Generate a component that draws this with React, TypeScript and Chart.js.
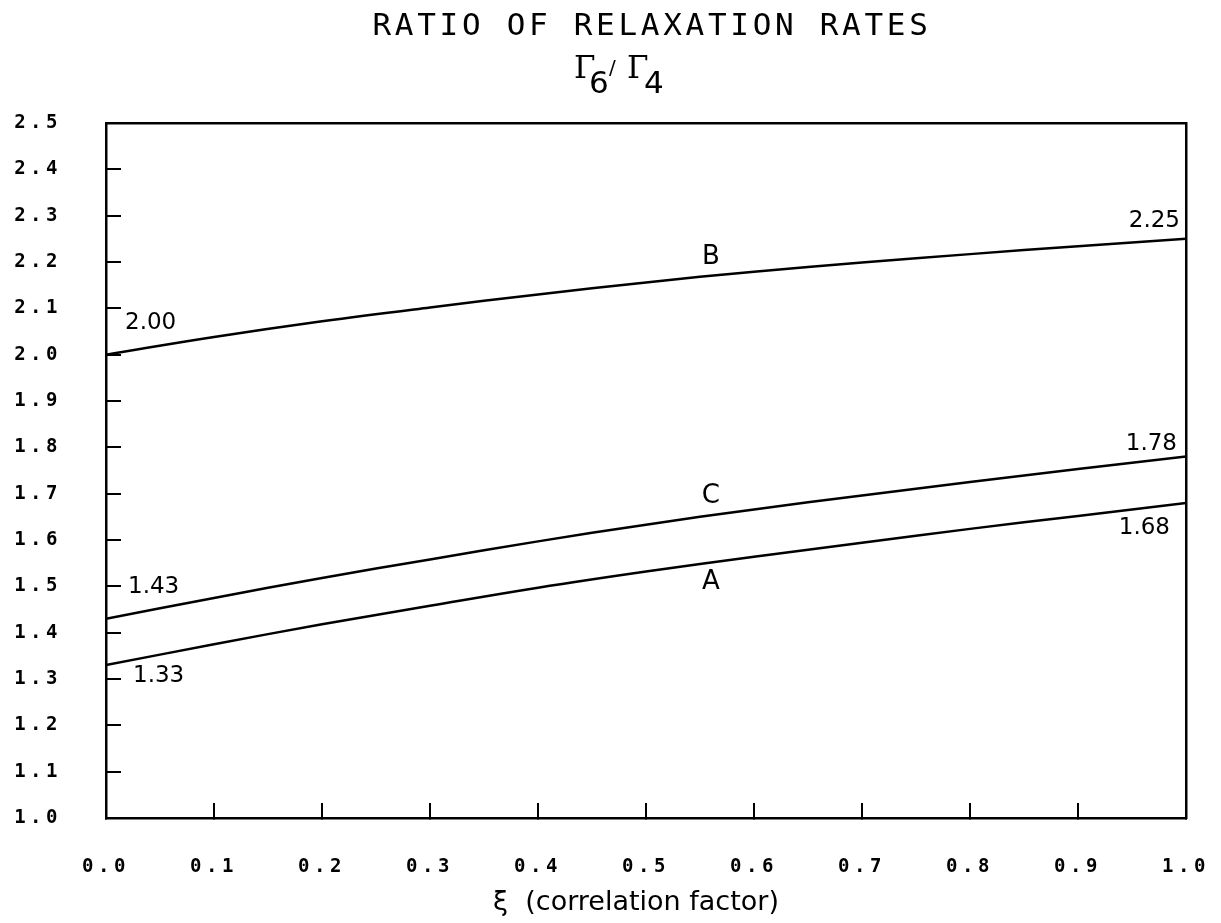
import React, { useEffect, useRef } from "react";
import { Chart, registerables } from "chart.js";

Chart.register(...registerables);

// ---- data ----
const xi = [0.0, 0.1, 0.2, 0.3, 0.4, 0.5, 0.6, 0.7, 0.8, 0.9, 1.0];
const seriesA = [1.33, 1.375, 1.418, 1.458, 1.497, 1.532, 1.564, 1.594, 1.624, 1.652, 1.68];
const seriesB = [2.0, 2.038, 2.072, 2.102, 2.13, 2.156, 2.179, 2.199, 2.217, 2.234, 2.25];
const seriesC = [1.43, 1.475, 1.518, 1.558, 1.597, 1.633, 1.666, 1.696, 1.725, 1.753, 1.78];
const curveNames = ["A", "B", "C"];
const titleLine = "RATIO OF RELAXATION RATES";
const xAxisTitle = "ξ  (correlation factor)";
const yMin = 1.0;
const yMax = 2.5;
const xMin = 0.0;
const xMax = 1.0;
const tickStep = 0.1;

const allSeries = [seriesA, seriesB, seriesC];

// label layout (pixel offsets from the curve end points / curve label anchor)
const curveLabelAt = 0.56;
const curveLabelDy = [20, -19, -19];
const startLabelOffset = [
  { dx: 27, dy: 11 },
  { dx: 19, dy: -32 },
  { dx: 22, dy: -32 },
];
const endLabelOffset = [
  { dx: -16, dy: 25 },
  { dx: -6, dy: -18 },
  { dx: -9, dy: -13 },
];

function interp(arr: number[], x: number) {
  for (let i = 0; i < xi.length - 1; i++) {
    if (x >= xi[i] && x <= xi[i + 1]) {
      const t = (x - xi[i]) / (xi[i + 1] - xi[i]);
      return arr[i] + t * (arr[i + 1] - arr[i]);
    }
  }
  return arr[arr.length - 1];
}

const overlayPlugin = {
  id: "overlayText",
  beforeDraw(chart: any) {
    chart.ctx.letterSpacing = "4.5px";
  },
  afterDraw(chart: any) {
    const ctx = chart.ctx as CanvasRenderingContext2D;
    const xs = chart.scales.x;
    const ys = chart.scales.y;
    const area = chart.chartArea;
    ctx.save();
    ctx.fillStyle = "#000";
    ctx.textBaseline = "alphabetic";

    // title
    (ctx as any).letterSpacing = "3.7px";
    ctx.font = '31px "DejaVu Sans Mono"';
    ctx.textAlign = "center";
    ctx.fillText(titleLine, 652, 35);

    // subtitle Γ6/Γ4
    (ctx as any).letterSpacing = "0px";
    ctx.textAlign = "left";
    ctx.font = '31px "DejaVu Serif"';
    ctx.fillText("Γ", 574, 78);
    ctx.fillText("Γ", 627, 78);
    ctx.font = '31px "DejaVu Sans"';
    ctx.fillText("6", 589, 93);
    ctx.fillText("4", 644, 93);
    ctx.font = '20px "DejaVu Sans"';
    ctx.fillText("/", 609, 74);

    // x axis title
    ctx.font = '27px "DejaVu Sans"';
    ctx.textAlign = "center";
    ctx.textBaseline = "middle";
    ctx.fillText(xAxisTitle, (area.left + area.right) / 2 - 10, 903);

    // end values
    ctx.font = '23px "DejaVu Sans"';
    allSeries.forEach((s, i) => {
      const x0 = xs.getPixelForValue(xi[0]);
      const y0 = ys.getPixelForValue(s[0]);
      ctx.textAlign = "left";
      ctx.fillText(s[0].toFixed(2), x0 + startLabelOffset[i].dx, y0 + startLabelOffset[i].dy);
      const x1 = xs.getPixelForValue(xi[xi.length - 1]);
      const y1 = ys.getPixelForValue(s[s.length - 1]);
      ctx.textAlign = "right";
      ctx.fillText(s[s.length - 1].toFixed(2), x1 + endLabelOffset[i].dx, y1 + endLabelOffset[i].dy);
    });

    // curve names
    ctx.font = '26px "DejaVu Sans"';
    ctx.textAlign = "center";
    allSeries.forEach((s, i) => {
      const px = xs.getPixelForValue(curveLabelAt);
      const py = ys.getPixelForValue(interp(s, curveLabelAt));
      ctx.fillText(curveNames[i], px, py + curveLabelDy[i]);
    });
    ctx.restore();
  },
};

export default function App() {
  const ref = useRef<HTMLCanvasElement | null>(null);
  useEffect(() => {
    if (!ref.current) return;
    const tickFont = { family: '"DejaVu Sans Mono"', size: 19, weight: "bold" };
    const chart = new Chart(ref.current, {
      type: "line",
      data: {
        datasets: allSeries.map((s, i) => ({
          label: curveNames[i],
          data: xi.map((x, j) => ({ x, y: s[j] })),
          borderColor: "#000",
          borderWidth: 2.5,
          pointRadius: 0,
          tension: 0.4,
          fill: false,
        })),
      },
      options: {
        responsive: false,
        animation: false,
        events: [],
        layout: { padding: { top: 123, right: 35, left: 0, bottom: 0 } },
        plugins: {
          legend: { display: false },
          title: { display: false },
          tooltip: { enabled: false },
        },
        scales: {
          x: {
            type: "linear",
            position: "bottom",
            min: xMin,
            max: xMax,
            ticks: {
              stepSize: tickStep,
              color: "#000",
              font: tickFont,
              padding: 53,
              maxRotation: 0,
              autoSkip: false,
              callback: (v: any) => Number(v).toFixed(1),
            },
            grid: {
              drawOnChartArea: false,
              drawTicks: true,
              tickLength: -15,
              color: "#000",
              lineWidth: 2,
            },
            border: { display: true, color: "#000", width: 2.5 },
            afterFit: (s: any) => {
              s.height = 105;
              s.paddingLeft = 0;
              s.paddingRight = 0;
            },
          },
          y: {
            type: "linear",
            position: "left",
            min: yMin,
            max: yMax,
            ticks: {
              stepSize: tickStep,
              color: "#000",
              font: tickFont,
              padding: 59,
              autoSkip: false,
              callback: (v: any) => Number(v).toFixed(1),
            },
            grid: {
              drawOnChartArea: false,
              drawTicks: true,
              tickLength: -15,
              color: "#000",
              lineWidth: 2,
            },
            border: { display: true, color: "#000", width: 2.5 },
            afterFit: (s: any) => {
              s.width = 106;
              s.paddingTop = 0;
              s.paddingBottom = 0;
            },
          },
          xTop: {
            type: "linear",
            position: "top",
            min: xMin,
            max: xMax,
            ticks: { display: false },
            grid: { display: false, drawTicks: false },
            border: { display: true, color: "#000", width: 2.5 },
            afterFit: (s: any) => {
              s.height = 0;
              s.paddingLeft = 0;
              s.paddingRight = 0;
            },
          },
          yRight: {
            type: "linear",
            position: "right",
            min: yMin,
            max: yMax,
            ticks: { display: false },
            grid: { display: false, drawTicks: false },
            border: { display: true, color: "#000", width: 2.5 },
            afterFit: (s: any) => {
              s.width = 0;
              s.paddingTop = 0;
              s.paddingBottom = 0;
            },
          },
        },
      } as any,
      plugins: [overlayPlugin],
    });
    return () => chart.destroy();
  }, []);
  return (
    <div style={{ position: "absolute", left: 0, top: 0, width: 1221, height: 923, background: "#fff" }}>
      <canvas ref={ref} width={1221} height={923} style={{ display: "block" }} />
    </div>
  );
}
